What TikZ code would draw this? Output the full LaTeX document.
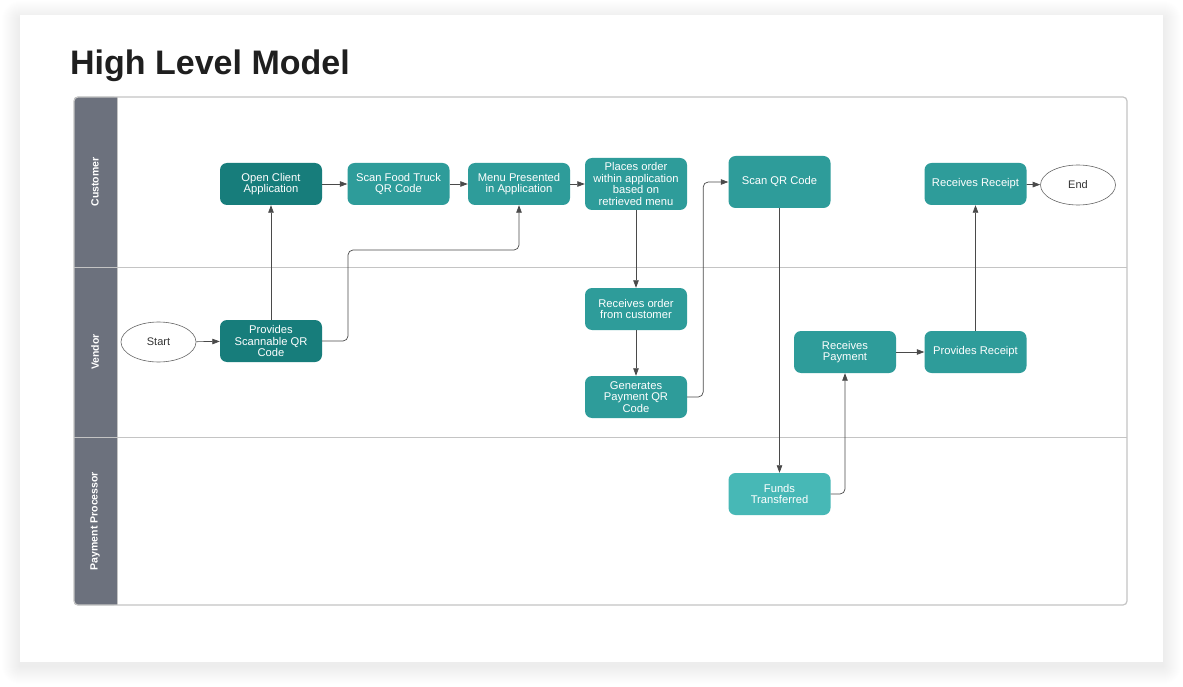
\documentclass[tikz,border=0pt]{standalone}
\usepackage{fontspec}
\setmainfont{Liberation Sans}
\usepackage{tikz}
\usetikzlibrary{calc,arrows.meta,shapes.geometric}
\definecolor{tealdark}{HTML}{177D7B}
\definecolor{tealmid}{HTML}{2E9C9A}
\definecolor{teallight}{HTML}{47B8B6}
\definecolor{lanehead}{HTML}{6C717D}
\definecolor{laneline}{HTML}{C4C4C4}
\definecolor{wire}{HTML}{4A4A4A}
\begin{document}
\begin{tikzpicture}[x=1pt,y=-1pt,
  task/.style={rounded corners=7pt,fill=tealmid,text=white,align=center,
    minimum width=102pt,minimum height=42pt,inner sep=2pt,
    font=\fontsize{11.2}{11.6}\selectfont},
  ends/.style={ellipse,draw=black!60,line width=0.6pt,fill=white,
    minimum width=75pt,minimum height=40pt,text=black!80,
    font=\fontsize{11}{12}\selectfont},
  lanetitle/.style={rotate=90,text=white,font=\fontsize{10.5}{12}\selectfont\bfseries},
  arr/.style={draw=wire,line width=0.7pt,rounded corners=5pt,
    -{Triangle[length=7.5pt,width=5.5pt]}}]
\useasboundingbox (0,0) rectangle (1183,687);
\fill[white] (0,0) rectangle (1183,687);
% card with soft shadow
\foreach \i in {1,...,18}
  \fill[black,opacity=0.0035,rounded corners=\i pt] (20-\i,15-\i+4) rectangle (1163+\i,662+\i+4);
\fill[white] (20,15) rectangle (1163,662);
\node[anchor=base west,inner sep=0,text=black!88,
  font=\fontsize{34}{40}\selectfont\bfseries] (title) at (70,75) {High Level Model};
% swimlanes
\fill[lanehead,rounded corners=3pt] (74,97) rectangle (117,605);
\fill[lanehead] (100,97) rectangle (117,605);
\draw[laneline,line width=1.2pt,rounded corners=4pt] (74,97) rectangle (1127,605);
\draw[laneline,line width=1pt] (74,267) -- (1127,267);
\draw[laneline,line width=1pt] (74,437) -- (1127,437);
\draw[laneline,line width=1pt] (117,97) -- (117,605);
\node[lanetitle] (cust) at (95,182) {Customer};
\node[lanetitle] (vend) at (95,352) {Vendor};
\node[lanetitle] (pay) at (95,521) {Payment Processor};
% customer lane
\node[task,fill=tealdark] (open) at (271,184) {Open Client\\Application};
\node[task] (scanfood) at (398.5,184) {Scan Food Truck\\QR Code};
\node[task] (menu) at (519,184) {Menu Presented\\in Application};
\node[task,minimum height=52pt] (place) at (636,184) {Places order\\within application\\based on\\retrieved menu};
\node[task,minimum height=52pt] (scanqr) at (779.5,182) {Scan QR Code};
\node[task] (getreceipt) at (975.5,184) {Receives Receipt};
\node[ends] (end) at (1078,185) {End};
% vendor lane
\node[ends] (start) at (158.5,342) {Start};
\node[task,fill=tealdark] (prov) at (271,341) {Provides\\Scannable QR\\Code};
\node[task] (recorder) at (636,309) {Receives order\\from customer};
\node[task] (gen) at (636,397) {Generates\\Payment QR\\Code};
\node[task] (recpay) at (845,352) {Receives\\Payment};
\node[task] (provreceipt) at (975.5,352) {Provides Receipt};
% payment processor lane
\node[task,fill=teallight] (funds) at (779.5,494) {Funds\\Transferred};
% flow
\draw[arr] (start) -- (prov);
\draw[arr] (prov) -- (open);
\draw[arr] (prov.east) -| (348,250) -| (menu.south);
\draw[arr] (open) -- (scanfood);
\draw[arr] (scanfood) -- (menu);
\draw[arr] (menu) -- (place);
\draw[arr] (place) -- (recorder);
\draw[arr] (recorder) -- (gen);
\draw[arr] (gen.east) -- ++(16,0) |- (scanqr.west);
\draw[arr] (scanqr) -- (funds);
\draw[arr] (funds.east) -| (recpay.south);
\draw[arr] (recpay) -- (provreceipt);
\draw[arr] (provreceipt) -- (getreceipt);
\draw[arr] (getreceipt) -- (end);
\end{tikzpicture}
\end{document}
